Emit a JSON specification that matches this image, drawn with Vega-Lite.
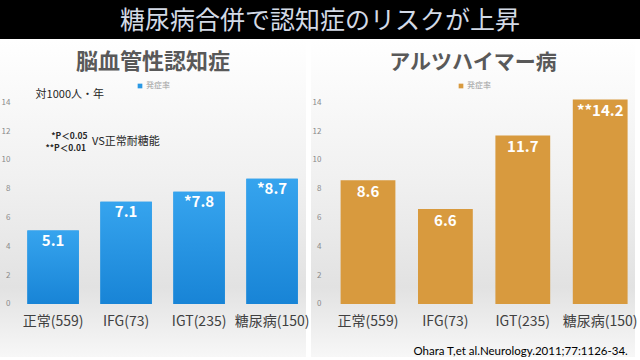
{
  "$schema": "https://vega.github.io/schema/vega-lite/v6.json",
  "padding": 0,
  "background": "#ffffff",
  "spacing": 1,
  "bounds": "flush",
  "config": {
    "view": {"stroke": null},
    "font": "Noto Sans CJK JP",
    "axis": {"domain": false, "ticks": false, "grid": false, "title": null}
  },
  "datasets": {
    "vascular": [
      {"group": "正常(559)", "rate": 5.1, "label": "5.1", "series": "発症率"},
      {"group": "IFG(73)", "rate": 7.1, "label": "7.1", "series": "発症率"},
      {"group": "IGT(235)", "rate": 7.8, "label": "*7.8", "series": "発症率"},
      {"group": "糖尿病(150)", "rate": 8.7, "label": "*8.7", "series": "発症率"}
    ],
    "alzheimer": [
      {"group": "正常(559)", "rate": 8.6, "label": "8.6", "series": "発症率"},
      {"group": "IFG(73)", "rate": 6.6, "label": "6.6", "series": "発症率"},
      {"group": "IGT(235)", "rate": 11.7, "label": "11.7", "series": "発症率"},
      {"group": "糖尿病(150)", "rate": 14.2, "label": "**14.2", "series": "発症率"}
    ]
  },
  "vconcat": [
    {
      "width": 640,
      "height": 39,
      "view": {"fill": "#000000", "stroke": null},
      "data": {"values": [{"t": "糖尿病合併で認知症のリスクが上昇"}]},
      "mark": {"type": "text", "fontSize": 25, "color": "#d3dae6", "baseline": "middle", "align": "center", "dy": 1},
      "encoding": {"text": {"field": "t"}}
    },
    {
      "hconcat": [
        {
          "width": 306,
          "height": 317,
          "view": {"stroke": null, "fill": {"gradient": "linear", "x1": 0, "y1": 0, "x2": 0, "y2": 1, "stops": [{"offset": 0, "color": "#ffffff"}, {"offset": 0.45, "color": "#f0f0f0"}, {"offset": 0.78, "color": "#e2e2e2"}, {"offset": 1, "color": "#f7f7f7"}]}},
          "title": {"text": "脳血管性認知症", "fontSize": 22, "fontWeight": "bold", "color": "#595959", "anchor": "middle", "frame": "group", "offset": -44, "baseline": "middle"},
          "layer": [
            {
              "data": {"name": "vascular"},
              "mark": {"type": "bar"},
              "encoding": {
                "x": {"field": "group", "type": "nominal", "sort": null, "scale": {"paddingInner": 0.295, "paddingOuter": 0.2435, "align": 0.77},
                      "axis": {"orient": "bottom", "offset": -45, "labelPadding": 2, "labelFontSize": 14, "labelColor": "#404040", "labelAngle": 0, "labelBaseline": "top"}},
                "y": {"field": "rate", "type": "quantitative", "scale": {"domain": [-3.68, 18.33], "nice": false, "zero": false},
                      "axis": {"values": [0, 2, 4, 6, 8, 10, 12, 14], "offset": -10, "labelPadding": 0, "labelFontSize": 8, "labelColor": "#8a8a8a"}},
                "y2": {"datum": 0},
                "color": {"field": "series", "type": "nominal", "scale": {"range": ["#2a98e4"]},
                          "legend": {"orient": "none", "legendX": 136, "legendY": 42, "title": null, "symbolType": "square", "symbolSize": 22, "labelFontSize": 8, "labelColor": "#a0a0a0", "labelOffset": 2}}
              }
            },
            {
              "data": {"name": "vascular"},
              "mark": {"type": "bar", "color": {"gradient": "linear", "x1": 0, "y1": 0, "x2": 0, "y2": 1, "stops": [{"offset": 0, "color": "#36a4ee"}, {"offset": 1, "color": "#1884d6"}]}},
              "encoding": {
                "x": {"field": "group", "type": "nominal", "sort": null},
                "y": {"field": "rate", "type": "quantitative"},
                "y2": {"datum": 0}
              }
            },
            {
              "data": {"name": "vascular"},
              "mark": {"type": "text", "color": "#ffffff", "fontSize": 15, "fontWeight": "bold", "baseline": "middle", "dy": 10},
              "encoding": {
                "x": {"field": "group", "type": "nominal", "sort": null},
                "y": {"field": "rate", "type": "quantitative"},
                "text": {"field": "label"}
              }
            },
            {
              "data": {"values": [{"t": "対1000人・年"}]},
              "mark": {"type": "text", "align": "left", "baseline": "middle", "dx": -17.5, "fontSize": 11, "color": "#262626"},
              "encoding": {"x": {"datum": "正常(559)"}, "y": {"datum": 14.51}, "text": {"field": "t"}}
            },
            {
              "data": {"values": [{"t": "*P＜0.05"}]},
              "mark": {"type": "text", "align": "right", "baseline": "middle", "dx": 34.5, "fontSize": 8.5, "fontWeight": "bold", "color": "#262626"},
              "encoding": {"x": {"datum": "正常(559)"}, "y": {"datum": 11.66}, "text": {"field": "t"}}
            },
            {
              "data": {"values": [{"t": "**P＜0.01"}]},
              "mark": {"type": "text", "align": "right", "baseline": "middle", "dx": 33, "fontSize": 8.5, "fontWeight": "bold", "color": "#262626"},
              "encoding": {"x": {"datum": "正常(559)"}, "y": {"datum": 10.86}, "text": {"field": "t"}}
            },
            {
              "data": {"values": [{"t": "VS正常耐糖能"}]},
              "mark": {"type": "text", "align": "left", "baseline": "middle", "dx": 39, "fontSize": 11, "color": "#262626"},
              "encoding": {"x": {"datum": "正常(559)"}, "y": {"datum": 11.25}, "text": {"field": "t"}}
            }
          ]
        },
        {
          "width": 324,
          "height": 317,
          "view": {"stroke": null, "fill": {"gradient": "linear", "x1": 0, "y1": 0, "x2": 0, "y2": 1, "stops": [{"offset": 0, "color": "#ffffff"}, {"offset": 0.45, "color": "#f0f0f0"}, {"offset": 0.78, "color": "#e2e2e2"}, {"offset": 1, "color": "#f7f7f7"}]}},
          "title": {"text": "アルツハイマー病", "fontSize": 21, "fontWeight": "bold", "color": "#595959", "anchor": "middle", "frame": "group", "offset": -44, "baseline": "middle"},
          "layer": [
            {
              "data": {"name": "alzheimer"},
              "mark": {"type": "bar"},
              "encoding": {
                "x": {"field": "group", "type": "nominal", "sort": null, "scale": {"paddingInner": 0.292, "paddingOuter": 0.239, "align": 0.8},
                      "axis": {"orient": "bottom", "offset": -45, "labelPadding": 2, "labelFontSize": 14, "labelColor": "#404040", "labelAngle": 0, "labelBaseline": "top"}},
                "y": {"field": "rate", "type": "quantitative", "scale": {"domain": [-3.68, 18.33], "nice": false, "zero": false},
                      "axis": {"values": [0, 2, 4, 6, 8, 10, 12, 14], "offset": -10, "labelPadding": 0, "labelFontSize": 8, "labelColor": "#8a8a8a"}},
                "y2": {"datum": 0},
                "color": {"field": "series", "type": "nominal", "scale": {"range": ["#d89a3e"]},
                          "legend": {"orient": "none", "legendX": 146, "legendY": 42, "title": null, "symbolType": "square", "symbolSize": 22, "labelFontSize": 8, "labelColor": "#a0a0a0", "labelOffset": 2}}
              }
            },
            {
              "data": {"name": "alzheimer"},
              "mark": {"type": "text", "color": "#ffffff", "fontSize": 15, "fontWeight": "bold", "baseline": "middle", "dy": 12},
              "encoding": {
                "x": {"field": "group", "type": "nominal", "sort": null},
                "y": {"field": "rate", "type": "quantitative"},
                "text": {"field": "label"}
              }
            },
            {
              "data": {"values": [{"t": "Ohara T,et al.Neurology.2011;77:1126-34."}]},
              "mark": {"type": "text", "align": "right", "baseline": "middle", "dx": 27.6, "fontSize": 11.5, "font": "Lato", "color": "#000000"},
              "encoding": {"x": {"datum": "糖尿病(150)"}, "y": {"datum": -3.33}, "text": {"field": "t"}}
            }
          ]
        }
      ],
      "spacing": 5,
      "bounds": "flush",
      "resolve": {"scale": {"color": "independent", "x": "independent", "y": "independent"}, "legend": {"color": "independent"}}
    }
  ]
}
